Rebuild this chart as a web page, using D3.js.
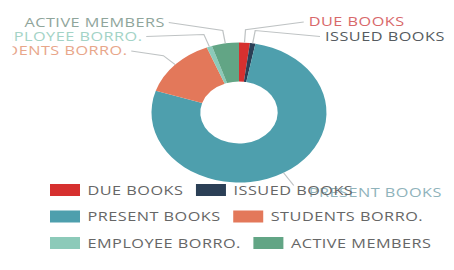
<!DOCTYPE html>
<html>
<head>
<meta charset="utf-8">
<script src="https://cdn.jsdelivr.net/npm/d3@7/dist/d3.min.js"></script>
<style>
  html, body { margin: 0; padding: 0; background: #fff; }
  svg { display: block; font-family: "Open Sans", sans-serif; }
</style>
</head>
<body>
<svg id="chart"></svg>
<script>
// Slices, clockwise from 12 o'clock
var categories = ["DUE BOOKS", "ISSUED BOOKS", "PRESENT BOOKS", "STUDENTS BORRO.", "EMPLOYEE BORRO.", "ACTIVE MEMBERS"];
var values = [2, 1, 77, 14, 1, 5];
var colors = ["#d6302f", "#2b3f56", "#4e9fad", "#e3785a", "#8ccab9", "#62a585"];
var labelColors = ["#d8686a", "#555b60", "#8fb3bb", "#e8a68a", "#a3d3c6", "#8fa59b"];

// The picture is stretched horizontally, so draw in a narrower box and let the svg scale it
var W = 454, H = 270, sx = 1.25;
var vw = W / sx;

var svg = d3.select("#chart")
  .attr("width", W).attr("height", H)
  .attr("viewBox", "0 0 " + vw + " " + H)
  .attr("preserveAspectRatio", "none");

var cx = 191.2, cy = 112.5, outerR = 70, innerR = 31;
var fontSize = 13, spacing = 0.4;

var data = categories.map(function(c, i) {
  return { name: c, value: values[i], color: colors[i], labelColor: labelColors[i] };
});

var pie = d3.pie().sort(null).value(function(d) { return d.value; });
var arcs = pie(data);
var arc = d3.arc().innerRadius(innerR).outerRadius(outerR);

var g = svg.append("g").attr("transform", "translate(" + cx + "," + cy + ")");
g.selectAll("path.slice")
  .data(arcs)
  .enter().append("path")
  .attr("class", "slice")
  .attr("d", arc)
  .attr("fill", function(d) { return d.data.color; });

// Outside labels: anchor side and text position (layout only)
var labelPos = [
  { x: 247, y: 26.5, anchor: "start" },
  { x: 260, y: 41, anchor: "start" },
  { x: 247, y: 197.5, anchor: "start" },
  { x: 102, y: 55.5, anchor: "end" },
  { x: 114, y: 41, anchor: "end" },
  { x: 132, y: 27, anchor: "end" }
];

svg.append("clipPath").attr("id", "lblclip")
  .append("rect").attr("x", 10).attr("y", 0).attr("width", vw).attr("height", H);

var lbl = svg.append("g").attr("clip-path", "url(#lblclip)");

arcs.forEach(function(a, i) {
  var mid = (a.startAngle + a.endAngle) / 2;
  var p0 = [cx + outerR * Math.sin(mid), cy - outerR * Math.cos(mid)];
  var p1 = [cx + (outerR + 13) * Math.sin(mid), cy - (outerR + 13) * Math.cos(mid)];
  var lp = labelPos[i];
  var ly = lp.y - 4.5;
  var p2 = lp.anchor === "start" ? [lp.x - 4, ly] : [lp.x + 3, ly];
  if (i === 2) { p1 = [lp.x - 12, lp.y - 12]; p2 = p1; }
  lbl.append("polyline")
    .attr("points", [p0, p1, p2].map(function(p) { return p.join(","); }).join(" "))
    .attr("fill", "none")
    .attr("stroke", "#bfc3c4")
    .attr("stroke-width", 1);
  lbl.append("text")
    .attr("x", lp.x).attr("y", lp.y)
    .attr("text-anchor", lp.anchor)
    .attr("font-size", fontSize)
    .attr("letter-spacing", spacing)
    .attr("fill", a.data.labelColor)
    .text(a.data.name);
});

// Legend, two items per row
var legend = svg.append("g");
var rowY = [190, 216.5, 243];
var x0 = 40, sw = 24, sh = 12, lx = x0;
data.forEach(function(d, i) {
  var row = Math.floor(i / 2);
  if (i % 2 === 0) lx = x0;
  var item = legend.append("g").attr("transform", "translate(" + lx + "," + rowY[row] + ")");
  item.append("rect")
    .attr("x", 0).attr("y", -sh / 2)
    .attr("width", sw).attr("height", sh)
    .attr("fill", d.color);
  var t = item.append("text")
    .attr("x", sw + 6).attr("y", 4.5)
    .attr("font-size", fontSize)
    .attr("letter-spacing", spacing)
    .attr("fill", "#666")
    .text(d.name);
  lx += sw + 6 + t.node().getComputedTextLength() + 10;
});
</script>
</body>
</html>
